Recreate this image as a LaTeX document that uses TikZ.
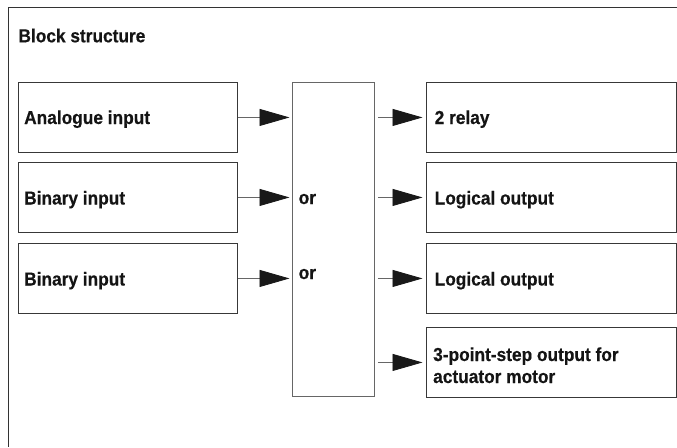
\documentclass[tikz,border=0pt]{standalone}
\usepackage{fontspec}
\setmainfont{Liberation Sans}[FakeStretch=0.92, BoldFeatures={FakeBold=0.5}]
\usetikzlibrary{arrows.meta}
\begin{document}
\begin{tikzpicture}[x=1pt,y=-1pt,
  frame/.style={draw=black!80, line width=0.9pt},
  inbox/.style={draw=black!78, line width=0.9pt, inner sep=0pt, minimum width=219pt, minimum height=70pt, anchor=north west},
  outbox/.style={draw=black!78, line width=0.9pt, inner sep=0pt, minimum width=250pt, minimum height=70pt, anchor=north west},
  midbox/.style={draw=black!60, line width=0.9pt, inner sep=0pt, minimum width=82pt, minimum height=314pt, anchor=north west},
  lbl/.style={inner sep=0pt, anchor=base west, align=left, text=black!92, font=\fontsize{18.8}{22}\selectfont\bfseries},
  conn/.style={draw=black!60, line width=0.8pt, -{Triangle[length=30pt,width=17pt,color=black!90]}}
]
\useasboundingbox (0,0) rectangle (677,447);
% outer frame
\draw[frame] (677,7) -- (8,7) -- (8,447);
\node[lbl] (title) at (18.3,42.3) {Block structure};
% input boxes
\node[inbox] (in1) at (18,82) {};
\node[inbox] (in2) at (18,162) {};
\node[inbox] (in3) at (18,243) {};
% middle box
\node[midbox] (mid) at (292,82) {};
% output boxes
\node[outbox] (out1) at (426,82) {};
\node[outbox] (out2) at (426,162) {};
\node[outbox] (out3) at (426,243) {};
\node[outbox] (out4) at (426,327) {};
% labels
\node[lbl] (tin1) at (24,124) {Analogue input};
\node[lbl] (tin2) at (24,204.5) {Binary input};
\node[lbl] (tin3) at (24,285.5) {Binary input};
\node[lbl] (or1) at (298.5,204) {or};
\node[lbl] (or2) at (298.5,279) {or};
\node[lbl] (tout1) at (434.5,124) {2 relay};
\node[lbl] (tout2) at (434.5,204.5) {Logical output};
\node[lbl] (tout3) at (434.5,285.5) {Logical output};
\node[lbl] (tout4) at (433,383) {3-point-step output for\\actuator motor};
% connectors
\draw[conn] (in1.east) -- ([xshift=-2.5pt]mid.west |- in1.east);
\draw[conn] (in2.east) -- ([xshift=-2.5pt]mid.west |- in2.east);
\draw[conn] (in3.east) -- ([xshift=-2.5pt]mid.west |- in3.east);
\draw[conn] ([xshift=3pt]mid.east |- out1.west) -- ([xshift=-3.5pt]out1.west);
\draw[conn] ([xshift=3pt]mid.east |- out2.west) -- ([xshift=-3.5pt]out2.west);
\draw[conn] ([xshift=3pt]mid.east |- out3.west) -- ([xshift=-3.5pt]out3.west);
\draw[conn] ([xshift=3pt]mid.east |- out4.west) -- ([xshift=-3.5pt]out4.west);
\end{tikzpicture}
\end{document}
